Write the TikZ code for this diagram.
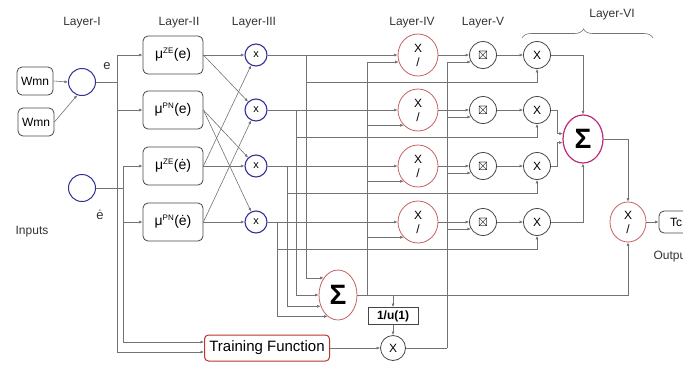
\documentclass[tikz,border=0pt]{standalone}
\usepackage{amssymb}
\usepackage{fontspec}
\setmainfont{Liberation Sans}
\usetikzlibrary{arrows.meta,shapes.geometric,decorations.pathreplacing}
\definecolor{wiregray}{RGB}{115,115,115}
\definecolor{boxgray}{RGB}{70,70,70}
\definecolor{layerblue}{RGB}{50,50,150}
\definecolor{normred}{RGB}{200,95,95}
\definecolor{summag}{RGB}{190,40,120}
\definecolor{trainred}{RGB}{190,50,40}
\newcommand{\mfn}[2]{μ\textsuperscript{\fontsize{8}{8}\selectfont #1}(#2)}
\tikzset{
  wire/.style   ={line width=0.6pt, wiregray},
  wirein/.style ={wire, -{Latex[length=3.5pt,width=3pt]}},
  inbox/.style  ={rectangle, rounded corners=5pt, draw=boxgray, line width=0.8pt,
                  minimum width=36pt, minimum height=28pt, inner sep=1pt,
                  font=\fontsize{12}{12}\selectfont},
  mfbox/.style  ={rectangle, rounded corners=5pt, draw=boxgray, line width=0.8pt,
                  minimum width=60pt, minimum height=38pt, inner sep=1pt,
                  font=\fontsize{14}{14}\selectfont},
  incirc/.style ={circle, draw=layerblue, line width=1pt, minimum size=27pt, inner sep=0pt},
  rulecirc/.style={circle, draw=layerblue, line width=1.1pt, minimum size=22pt, inner sep=0pt,
                  font=\fontsize{11}{11}\selectfont},
  normell/.style={ellipse, draw=normred, line width=0.8pt, minimum width=40pt,
                  minimum height=42pt, inner sep=0pt, align=center,
                  font=\fontsize{12}{14}\selectfont},
  prodcirc/.style={circle, draw=boxgray, line width=0.8pt, minimum size=27pt, inner sep=0pt,
                  font=\fontsize{12}{12}\selectfont},
  sumell/.style ={ellipse, draw=summag, line width=1.2pt, minimum width=40pt,
                  minimum height=48pt, inner sep=0pt, font=\fontsize{28}{28}\selectfont\bfseries},
  invbox/.style ={rectangle, draw=boxgray, line width=0.8pt, minimum width=50pt,
                  minimum height=17pt, inner sep=1pt, font=\fontsize{12}{12}\selectfont\bfseries},
  trainbox/.style={rectangle, rounded corners=4pt, draw=trainred, line width=1pt,
                  minimum width=125pt, minimum height=26pt, inner sep=1pt,
                  font=\fontsize{15}{15}\selectfont},
  layerlab/.style={font=\fontsize{12}{12}\selectfont, text=black!80},
  sidelab/.style={font=\fontsize{13}{13}\selectfont, text=black!80},
}
\begin{document}
\begin{tikzpicture}[x=1pt, y=-1pt]
  \useasboundingbox (0,0) rectangle (683,365);
  % layer titles
  \node[layerlab] (labI) at (82,23) {Layer-I};
  \node[layerlab] (labII) at (179,23) {Layer-II};
  \node[layerlab] (labIII) at (254,23) {Layer-III};
  \node[layerlab] (labIV) at (412,23) {Layer-IV};
  \node[layerlab] (labV) at (483,23) {Layer-V};
  \node[layerlab] (labVI) at (612,15) {Layer-VI};
  \draw[wire, decorate, decoration={brace, amplitude=9pt, aspect=0.47}] (522,38) -- (653,38);

  % inputs
  \node[inbox] (w1) at (35,81) {Wmn};
  \node[inbox] (w2) at (36,122) {Wmn};
  \node[incirc] (e1) at (82,82) {};
  \node[incirc] (e2) at (82,188) {};
  \node[sidelab] (le) at (107,66) {e};
  \node[sidelab] (lde) at (100,215) {ė};
  \node[sidelab, font=\fontsize{12}{12}\selectfont] (lin) at (32,232) {Inputs};

  % bus columns
  \coordinate (be) at (117,0);
  \coordinate (bd) at (123,0);
  \coordinate (t1) at (306,0);
  \coordinate (t2) at (296,0);
  \coordinate (t3) at (287,0);
  \coordinate (t4) at (277,0);
  \coordinate (bn) at (367,0);
  \coordinate (bt) at (447,0);
  \coordinate (bs) at (557,0);

  % layers II to VI
  \foreach \i/\y/\txt in {1/55/{\mfn{ZE}{e}}, 2/110/{\mfn{PN}{e}},
                          3/166/{\mfn{ZE}{ė}}, 4/222/{\mfn{PN}{ė}}} {
    \node[mfbox] (mu\i) at (173,\y) {\txt};
    \node[rulecirc] (p\i) at (256,\y) {x};
    \node[normell] (n\i) at (418,\y) {X\\/};
    \node[prodcirc] (m\i) at (483,\y) {$\boxtimes$};
    \node[prodcirc] (q\i) at (537,\y) {X};
    \coordinate (k\i) at (0,\y+27);
  }

  % sums, output and training
  \node[sumell] (sig) at (583,139) {Σ};
  \node[sumell, draw=normred, line width=0.8pt, minimum width=38pt, minimum height=50pt] (s2) at (338,295) {Σ};
  \node[normell, minimum width=36pt, minimum height=40pt] (dv) at (628,222) {X\\/};
  \node[inbox, minimum width=34pt, minimum height=22pt] (tc) at (676,222) {Tc};
  \node[sidelab, anchor=west, font=\fontsize{12}{12}\selectfont] (lout) at (650,257) {Outputs};
  \node[invbox] (inv) at (393,316) {1/u(1)};
  \node[prodcirc, minimum size=25pt] (tx) at (393,348) {X};
  \node[trainbox] (tr) at (267,348) {Training Function};
  \coordinate (trhi) at ([yshift=6pt]tr.west);
  \coordinate (trlo) at ([yshift=-4pt]tr.west);

  % input wiring
  \draw[wirein] (w1.east) -- (e1.west);
  \draw[wirein] (w2.east) -- (e1.-110);
  \draw[wire] (e1.east) -- (be |- e1.east);
  \draw[wire] (be |- mu1.west) -- (be |- trlo);
  \draw[wire] (e2.east) -- (bd |- e2.east);
  \draw[wire] (bd |- mu3.west) -- (bd |- trhi);
  \foreach \i in {1,2} \draw[wirein] (be |- mu\i.west) -- (mu\i.west);
  \foreach \i in {3,4} \draw[wirein] (bd |- mu\i.west) -- (mu\i.west);
  \draw[wirein] (be |- trlo) -- (trlo);
  \draw[wirein] (bd |- trhi) -- (trhi);

  % rule layer
  \foreach \a/\b in {1/1,1/2,2/3,2/4,3/1,3/3,4/2,4/4}
    \draw[wirein] (mu\a.east) -- (p\b);

  % normalisation and products
  \foreach \i/\ang in {1/130,2/180,3/-147,4/-116} {
    \draw[wirein] (p\i.east) -- (n\i.west);
    \draw[wirein] (t\i |- p\i.east) |- (s2.\ang);
    \draw[wirein] (t\i |- k\i) -| (q\i.south);
    \draw[wirein] (n\i.east) -- (m\i.west);
    \draw[wirein] (m\i.east) -- (q\i.west);
    \draw[wirein] (bt |- m\i.-150) -- (m\i.-150);
  }
  \draw[wire] (bn |- n1.-160) -- (bn |- s2.east);
  \draw[wirein] (bn |- n1.-160) -- (n1.-160);
  \foreach \i in {2,3,4} \draw[wirein] (bn |- n\i.-133) -- (n\i.-133);

  % training path
  \draw[wirein] (inv.north |- s2.east) -- (inv.north);
  \draw[wirein] (inv.south) -- (tx.north);
  \draw[wirein] (tr.east) -- (tx.west);
  \draw[wire] (tx.east) -- (bt |- tx.east);
  \draw[wire] (bt |- tx.east) -- (bt |- m1.-150);

  % output sum
  \draw[wirein] (q1.east) -| (sig.north);
  \draw[wirein] (q4.east) -| (sig.south);
  \draw[wirein] (q2.east) -| (bs |- sig.165) -- (sig.165);
  \draw[wirein] (q3.east) -| (bs |- sig.-170) -- (sig.-170);
  \draw[wirein] (sig.east) -| (dv.north);
  \draw[wirein] (s2.east) -| (dv.south);
  \draw[wirein] (dv.east) -- (tc.west);
\end{tikzpicture}
\end{document}
